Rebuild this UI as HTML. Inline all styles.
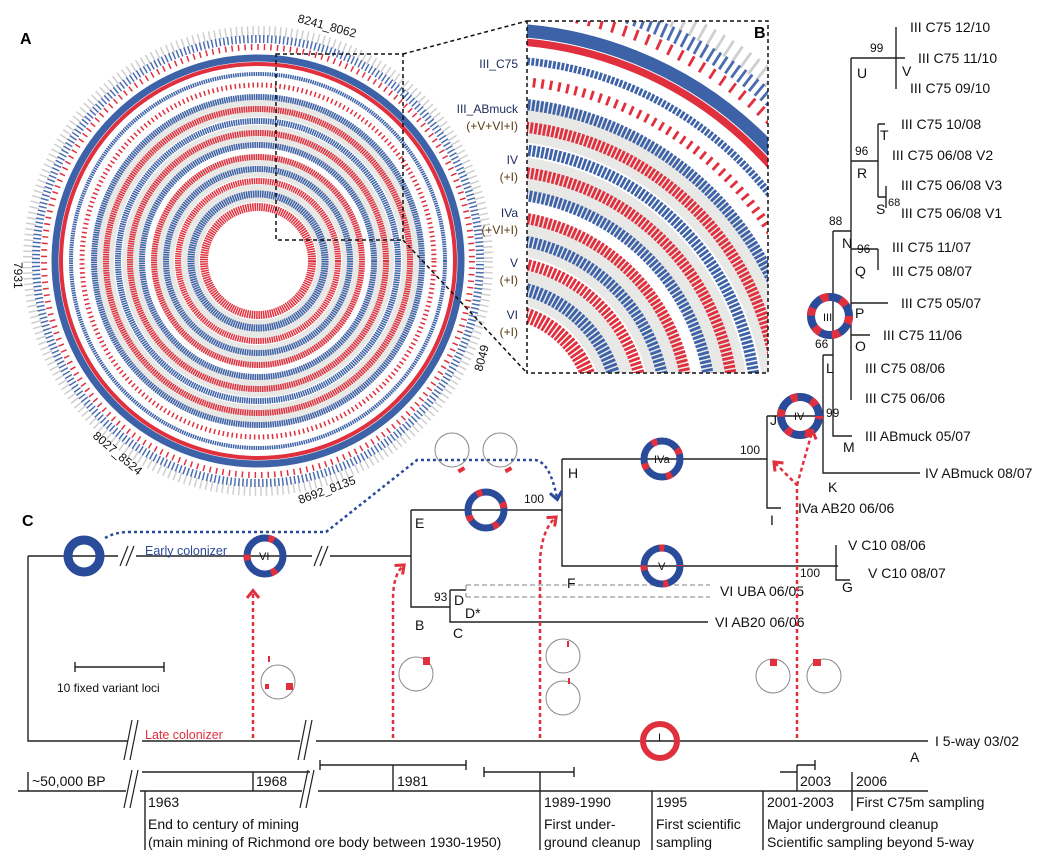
<!DOCTYPE html>
<html><head><meta charset="utf-8"><style>
html,body{margin:0;padding:0;background:#fff;}
svg{display:block;font-family:"Liberation Sans",Arial,sans-serif;}
.t{font-size:14px;fill:#111;}
.s{font-size:12px;fill:#111;}
.ln{stroke:#222;stroke-width:1.4;fill:none;}
</style></head><body>
<svg width="1058" height="865" viewBox="0 0 1058 865" xmlns="http://www.w3.org/2000/svg">
<defs>
<g id="circ">
  <circle cx="258" cy="261" r="230" fill="none" stroke="#cfcfcf" stroke-width="10" stroke-dasharray="1.5 4"/>
  <circle cx="258" cy="261" r="222" fill="none" stroke="#4a6db0" stroke-width="8" stroke-dasharray="1.5 2.5" stroke-dashoffset="1"/>
  <circle cx="258" cy="261" r="214" fill="none" stroke="#e0303e" stroke-width="6" stroke-dasharray="1.5 5"/>
  <circle cx="258" cy="261" r="155" fill="none" stroke="#e8e8e6" stroke-width="22"/>
  <circle cx="258" cy="261" r="125" fill="none" stroke="#e8e8e6" stroke-width="22"/>
  <circle cx="258" cy="261" r="95" fill="none" stroke="#e8e8e6" stroke-width="22"/>
  <circle cx="258" cy="261" r="68" fill="none" stroke="#e8e8e6" stroke-width="18"/>
  <circle cx="258" cy="261" r="203" fill="none" stroke="#3d62a8" stroke-width="7"/>
  <circle cx="258" cy="261" r="197" fill="none" stroke="#e0303e" stroke-width="4"/>
  <g fill="none" stroke-dasharray="1.5 0.8">
  <circle cx="258" cy="261" r="187" stroke="#3d62a8" stroke-width="4"/>
  <circle cx="258" cy="261" r="176" stroke="#e0303e" stroke-width="5" stroke-dasharray="1.5 3"/>
  <circle cx="258" cy="261" r="164" stroke="#3d62a8" stroke-width="6"/>
  <circle cx="258" cy="261" r="152" stroke="#e0303e" stroke-width="6"/>
  <circle cx="258" cy="261" r="140" stroke="#3d62a8" stroke-width="6"/>
  <circle cx="258" cy="261" r="128" stroke="#e0303e" stroke-width="6"/>
  <circle cx="258" cy="261" r="116" stroke="#3d62a8" stroke-width="6"/>
  <circle cx="258" cy="261" r="104" stroke="#e0303e" stroke-width="6"/>
  <circle cx="258" cy="261" r="92" stroke="#3d62a8" stroke-width="6"/>
  <circle cx="258" cy="261" r="80" stroke="#e0303e" stroke-width="6"/>
  <circle cx="258" cy="261" r="67" stroke="#3d62a8" stroke-width="7"/>
  <circle cx="258" cy="261" r="54" stroke="#e0303e" stroke-width="8"/>
  </g>
  <circle cx="258" cy="261" r="42" fill="#fff"/>
</g>
<clipPath id="bclip"><rect x="527" y="21" width="241" height="352"/></clipPath>
<marker id="ar" viewBox="0 0 10 10" refX="5" refY="5" markerWidth="6" markerHeight="6" orient="auto"><path d="M1 1 L6 5 L1 9" fill="none" stroke="#e0303e" stroke-width="2"/></marker>
<marker id="ab" viewBox="0 0 10 10" refX="5" refY="5" markerWidth="6" markerHeight="6" orient="auto"><path d="M1 1 L6 5 L1 9" fill="none" stroke="#2a4a9a" stroke-width="2"/></marker>
</defs>

<use href="#circ"/>
<text x="20" y="44" font-size="16" font-weight="bold">A</text>
<text x="0" y="0" class="s" transform="translate(297,22) rotate(15)">8241_8062</text>
<text x="0" y="0" class="s" transform="translate(14,262) rotate(90)">7931</text>
<text x="0" y="0" class="s" transform="translate(482,372) rotate(-75)">8049</text>
<text x="0" y="0" class="s" transform="translate(92,437) rotate(40)">8027_8524</text>
<text x="0" y="0" class="s" transform="translate(300,504) rotate(-20)">8692_8135</text>
<rect x="276" y="54" width="127" height="186" fill="none" stroke="#111" stroke-width="1.5" stroke-dasharray="4 3"/>
<line x1="403" y1="54" x2="527" y2="21" stroke="#111" stroke-width="1.5" stroke-dasharray="4 3"/>
<line x1="403" y1="240" x2="527" y2="373" stroke="#111" stroke-width="1.5" stroke-dasharray="4 3"/>

<g clip-path="url(#bclip)"><rect x="527" y="21" width="241" height="352" fill="#fff"/><use href="#circ" transform="translate(8,-79.5) scale(1.88)"/></g>
<rect x="527" y="21" width="241" height="352" fill="none" stroke="#111" stroke-width="1.5" stroke-dasharray="4 3"/>
<text x="754" y="38" font-size="16" font-weight="bold">B</text>
<g class="s" text-anchor="end" font-size="12.5">
<text x="518" y="68" fill="#1a2a5a">III_C75</text>
<text x="518" y="113" fill="#1a2a5a">III_ABmuck</text><text x="518" y="130" fill="#5a3a10">(+V+VI+I)</text>
<text x="518" y="164" fill="#1a2a5a">IV</text><text x="518" y="181" fill="#5a3a10">(+I)</text>
<text x="518" y="217" fill="#1a2a5a">IVa</text><text x="518" y="234" fill="#5a3a10">(+VI+I)</text>
<text x="518" y="267" fill="#1a2a5a">V</text><text x="518" y="284" fill="#5a3a10">(+I)</text>
<text x="518" y="319" fill="#1a2a5a">VI</text><text x="518" y="336" fill="#5a3a10">(+I)</text>
</g>

<g class="ln">
<path d="M851 58 H905 M896 27 V89"/>
<path d="M851 58 V400"/>
<path d="M851 161 H878 M878 124 V197 M878 124 H885 M878 197 H886 M886 186 V208"/>
<path d="M833 231 H851 M833 231 V436 H852"/>
<path d="M851 249 H878 M878 249 V270"/>
<path d="M851 303 H888 M851 335 H870"/>
<path d="M823 355 H833 M823 355 V473 H920"/>
<path d="M767 416 H823 M767 416 V508 H781"/>
<path d="M562 459 H767 M562 459 V566 H838 M836 545 V580 H850"/>
<path d="M411 510 H562 M411 510 V607 H450 M450 590 V622 H708 M450 590 H466"/>
<path d="M28 556 H118 M136 556 H312 M330 556 H411 M28 556 V741 H128 M142 741 H300 M316 741 H928"/>
</g>
<path d="M466 585 H710 M466 597 H710 M466 585 V597" fill="none" stroke="#999" stroke-width="1.3" stroke-dasharray="5 3"/>
<g class="t">
<text x="910" y="32">III C75 12/10</text><text x="918" y="63">III C75 11/10</text><text x="910" y="93">III C75 09/10</text>
<text x="901" y="129">III C75 10/08</text><text x="892" y="160">III C75 06/08 V2</text><text x="901" y="190">III C75 06/08 V3</text><text x="901" y="218">III C75 06/08 V1</text>
<text x="892" y="252">III C75 11/07</text><text x="892" y="276">III C75 08/07</text>
<text x="901" y="308">III C75 05/07</text><text x="883" y="340">III C75 11/06</text>
<text x="865" y="373">III C75 08/06</text><text x="865" y="403">III C75 06/06</text>
<text x="865" y="441">III ABmuck 05/07</text><text x="925" y="478">IV ABmuck 08/07</text>
<text x="798" y="513">IVa AB20 06/06</text>
<text x="848" y="550">V C10 08/06</text><text x="868" y="578">V C10 08/07</text>
<text x="720" y="596">VI UBA 06/05</text><text x="715" y="627">VI AB20 06/06</text>
<text x="935" y="746">I 5-way 03/02</text>
<text x="857" y="78">U</text><text x="902" y="76">V</text><text x="880" y="140">T</text><text x="857" y="178">R</text><text x="876" y="214">S</text>
<text x="842" y="248">N</text><text x="855" y="276">Q</text><text x="855" y="318">P</text><text x="855" y="351">O</text><text x="826" y="373">L</text>
<text x="843" y="452">M</text><text x="828" y="492">K</text><text x="770" y="425">J</text><text x="770" y="525">I</text>
<text x="568" y="478">H</text><text x="415" y="528">E</text><text x="567" y="588">F</text><text x="842" y="592">G</text>
<text x="415" y="630">B</text><text x="453" y="638">C</text><text x="454" y="605">D</text><text x="465" y="618">D*</text>
<text x="910" y="762">A</text>
</g>
<g class="s">
<text x="870" y="52">99</text><text x="855" y="155">96</text><text x="888" y="206" font-size="11">68</text><text x="829" y="225">88</text>
<text x="857" y="253">96</text><text x="815" y="348">66</text><text x="826" y="417">99</text><text x="740" y="454">100</text>
<text x="524" y="503">100</text><text x="800" y="577">100</text><text x="434" y="601">93</text>
</g>

<g fill="none">
<circle cx="830" cy="316" r="19" stroke="#2a4a9a" stroke-width="8"/>
<circle cx="830" cy="316" r="19" stroke="#e0303e" stroke-width="8" stroke-dasharray="8 12"/>
<circle cx="800" cy="416" r="19" stroke="#2a4a9a" stroke-width="8"/>
<circle cx="800" cy="416" r="19" stroke="#e0303e" stroke-width="8" stroke-dasharray="7 14" stroke-dashoffset="4"/>
<circle cx="662" cy="459" r="18" stroke="#2a4a9a" stroke-width="7"/>
<circle cx="662" cy="459" r="18" stroke="#e0303e" stroke-width="7" stroke-dasharray="6 22" stroke-dashoffset="10"/>
<circle cx="486" cy="510" r="18" stroke="#2a4a9a" stroke-width="7"/>
<circle cx="486" cy="510" r="18" stroke="#e0303e" stroke-width="7" stroke-dasharray="6 24" stroke-dashoffset="15"/>
<circle cx="662" cy="566" r="18" stroke="#2a4a9a" stroke-width="7"/>
<circle cx="662" cy="566" r="18" stroke="#e0303e" stroke-width="7" stroke-dasharray="5 25" stroke-dashoffset="8"/>
<circle cx="265" cy="556" r="18" stroke="#2a4a9a" stroke-width="7"/>
<circle cx="265" cy="556" r="18" stroke="#e0303e" stroke-width="7" stroke-dasharray="6 30" stroke-dashoffset="20"/>
<circle cx="84" cy="556" r="16" stroke="#2a4a9a" stroke-width="9"/>
<circle cx="660" cy="741" r="17" stroke="#e0303e" stroke-width="6"/>
</g>
<g font-size="11" fill="#111">
<text x="823" y="321">III</text><text x="794" y="420">IV</text><text x="654" y="463">IVa</text><text x="658" y="570">V</text><text x="259" y="560">VI</text><text x="658" y="741">I</text>
</g>
<text x="145" y="555" font-size="12.5" fill="#2a4a9a">Early colonizer</text>
<text x="145" y="739" font-size="12.5" fill="#e0303e">Late colonizer</text>
<text x="22" y="526" font-size="16" font-weight="bold">C</text>

<g stroke="#222" stroke-width="1.2">
<line x1="120" y1="566" x2="128" y2="546"/><line x1="126" y1="566" x2="134" y2="546"/>
<line x1="314" y1="566" x2="322" y2="546"/><line x1="320" y1="566" x2="328" y2="546"/>
<line x1="124" y1="760" x2="132" y2="720"/><line x1="130" y1="760" x2="138" y2="720"/>
<line x1="298" y1="760" x2="306" y2="720"/><line x1="304" y1="760" x2="312" y2="720"/>
<line x1="124" y1="808" x2="132" y2="770"/><line x1="130" y1="808" x2="138" y2="770"/>
<line x1="300" y1="808" x2="308" y2="770"/><line x1="306" y1="808" x2="314" y2="770"/>
</g>

<path d="M105 538 Q115 532 130 532 H326 L417 460 H535 Q550 462 557 498" fill="none" stroke="#2a4a9a" stroke-width="2.5" stroke-dasharray="3 3" marker-end="url(#ab)"/>
<g fill="none" stroke="#e0303e" stroke-width="2.5" stroke-dasharray="4 3">
<path d="M253 738 V592" marker-end="url(#ar)"/>
<path d="M393 738 V600 Q393 575 403 566" marker-end="url(#ar)"/>
<path d="M540 738 V560 Q542 530 555 518" marker-end="url(#ar)"/>
<path d="M797 738 V485 L775 463" marker-end="url(#ar)"/>
<path d="M797 485 L812 432" marker-end="url(#ar)"/>
</g>

<g fill="none" stroke="#888" stroke-width="1">
<circle cx="452" cy="450" r="17"/><circle cx="500" cy="450" r="17"/>
<circle cx="278" cy="682" r="17"/><circle cx="416" cy="674" r="17"/>
<circle cx="563" cy="656" r="17"/><circle cx="563" cy="698" r="17"/>
<circle cx="773" cy="676" r="17"/><circle cx="824" cy="676" r="17"/>
</g>
<g fill="#e0303e">
<rect x="458" y="468" width="7" height="4" transform="rotate(-30 461 470)"/><rect x="505" y="468" width="7" height="4" transform="rotate(-30 508 470)"/>
<rect x="286" y="683" width="7" height="7"/><rect x="265" y="684" width="4" height="5"/>
<rect x="423" y="657" width="7" height="8"/><rect x="770" y="659" width="7" height="7"/><rect x="813" y="659" width="8" height="7"/>
<rect x="567" y="641" width="2" height="6"/><rect x="568" y="678" width="2" height="6"/><rect x="268" y="656" width="2" height="6"/>
</g>

<path d="M75 667 H164 M75 662 V672 M164 662 V672" class="ln"/>
<text x="57" y="692" class="s" font-size="13">10 fixed variant loci</text>

<g class="ln">
<path d="M18 791 H126 M140 791 H302 M318 791 H928"/>
<path d="M28 772 V791 M142 772 H310 M253 772 V791 M145 791 V850"/>
<path d="M320 765 H466 M320 760 V770 M466 760 V770 M393 765 V791"/>
<path d="M484 772 H574 M484 767 V777 M574 767 V777 M540 772 V850"/>
<path d="M652 791 V850 M763 791 V850 M780 772 H797 M797 765 H815 M815 760 V770 M797 765 V791 M852 772 V811"/>
</g>
<g class="t" font-size="13.5">
<text x="32" y="786">~50,000 BP</text><text x="256" y="786">1968</text><text x="397" y="786">1981</text>
<text x="800" y="786">2003</text><text x="856" y="786">2006</text>
<text x="148" y="807">1963</text><text x="148" y="829">End to century of mining</text><text x="148" y="847">(main mining of Richmond ore body between 1930-1950)</text>
<text x="544" y="807">1989-1990</text><text x="544" y="829">First under-</text><text x="544" y="847">ground cleanup</text>
<text x="656" y="807">1995</text><text x="656" y="829">First scientific</text><text x="656" y="847">sampling</text>
<text x="767" y="807">2001-2003</text><text x="767" y="829">Major underground cleanup</text><text x="767" y="847">Scientific sampling beyond 5-way</text>
<text x="856" y="807">First C75m sampling</text>
</g>
</svg>
</body></html>
